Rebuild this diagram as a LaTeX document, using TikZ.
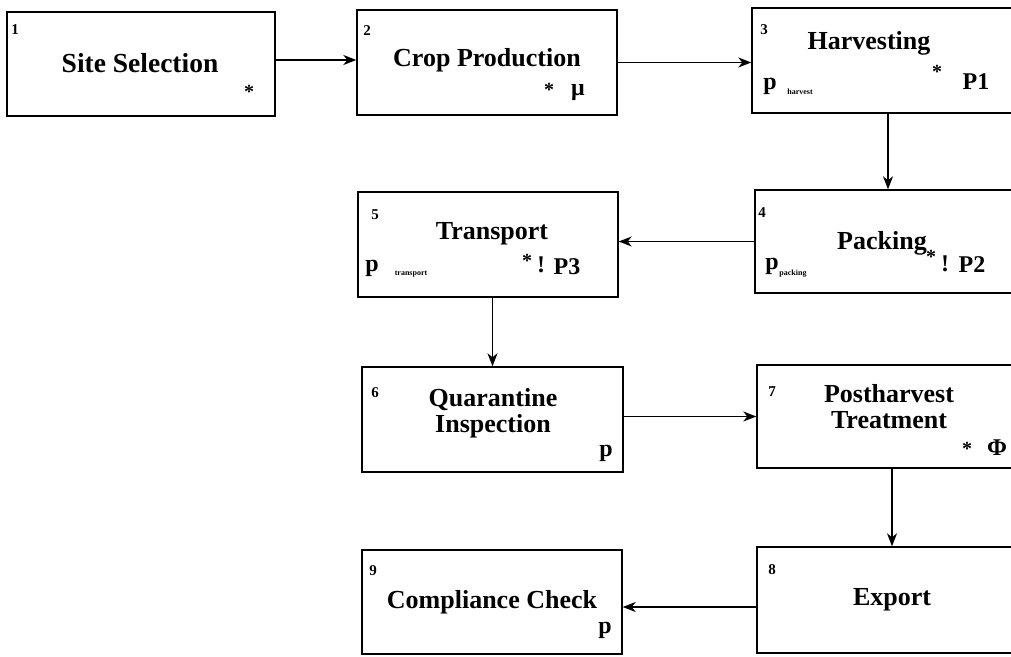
\documentclass[tikz,border=0pt]{standalone}
\usepackage{fontspec}
\setmainfont{Liberation Serif}
\usetikzlibrary{arrows.meta,calc}
\begin{document}
\begin{tikzpicture}[x=1pt,y=-1pt,
  box/.style={draw, line width=1.4pt, inner sep=0pt},
  lbl/.style={inner sep=0pt, font=\fontsize{26}{29}\selectfont\bfseries, align=center},
  num/.style={inner sep=0pt, font=\fontsize{15}{17}\selectfont\bfseries},
  sym/.style={inner sep=0pt, font=\fontsize{24}{26}\selectfont\bfseries},
  star/.style={inner sep=0pt, font=\fontsize{20}{22}\selectfont\bfseries},
  sub/.style={inner sep=0pt, font=\fontsize{8}{9}\selectfont\bfseries},
  arr/.style={line width=1.3pt, -{Stealth[length=13pt,width=10pt,inset=4pt]}}]
\useasboundingbox[fill=white] (0,0) rectangle (1011,656);
% boxes
\node[box, minimum width=268pt, minimum height=104pt] (b1) at (141,64) {};
\node[box, minimum width=260pt, minimum height=105pt] (b2) at (487,62.5) {};
\node[box, minimum width=272pt, minimum height=105pt] (b3) at (888,60.5) {};
\node[box, minimum width=266pt, minimum height=103pt] (b4) at (888,241.5) {};
\node[box, minimum width=260pt, minimum height=105pt] (b5) at (488,244.5) {};
\node[box, minimum width=261pt, minimum height=105pt] (b6) at (492.5,419.5) {};
\node[box, minimum width=270pt, minimum height=103pt] (b7) at (892,416.5) {};
\node[box, minimum width=270pt, minimum height=106pt] (b8) at (892,600) {};
\node[box, minimum width=260pt, minimum height=104pt] (b9) at (492,602) {};
% box 1
\node[num] (n1) at (15,30) {1};
\node[lbl, font=\fontsize{27.5}{30}\selectfont\bfseries] (t1) at (140,63) {Site Selection};
\node[star] (s1) at (249,92) {*};
% box 2
\node[num] (n2) at (367,31) {2};
\node[lbl] (t2) at (487,60) {Crop Production};
\node[star] (s2) at (549,90) {*};
\node[sym] (m2) at (578,93) {μ};
% box 3
\node[num] (n3) at (764,30) {3};
\node[lbl] (t3) at (869,43) {Harvesting};
\node[sym] (p3) at (770,86) {p};
\node[sub] (q3) at (800,92) {harvest};
\node[star] (s3) at (937,72) {*};
\node[sym] (m3) at (976,82) {P1};
% box 4
\node[num] (n4) at (762,213) {4};
\node[lbl] (t4) at (882,243) {Packing};
\node[sym] (p4) at (772,266) {p};
\node[sub] (q4) at (793,274) {packing};
\node[star] (s4) at (931,257) {*};
\node[sym] (e4) at (945,264) {!};
\node[sym] (m4) at (972,265) {P2};
% box 5
\node[num] (n5) at (375,215) {5};
\node[lbl] (t5) at (492,234) {Transport};
\node[sym] (p5) at (372,268) {p};
\node[sub] (q5) at (411,274) {transport};
\node[star] (s5) at (527,261) {*};
\node[sym] (e5) at (541,265) {!};
\node[sym] (m5) at (567,267) {P3};
% box 6
\node[num] (n6) at (375,393) {6};
\node[lbl] (t6) at (493,413) {Quarantine\\[-3pt]Inspection};
\node[sym] (p6) at (606,453) {p};
% box 7
\node[num] (n7) at (772,392) {7};
\node[lbl] (t7) at (889,407) {Postharvest\\[-3pt]Treatment};
\node[star] (s7) at (967,449) {*};
\node[sym] (m7) at (997,448) {Φ};
% box 8
\node[num] (n8) at (772,570) {8};
\node[lbl] (t8) at (892,600) {Export};
% box 9
\node[num] (n9) at (373,571) {9};
\node[lbl] (t9) at (492,602) {Compliance Check};
\node[sym] (p9) at (605,630) {p};
% connectors
\draw[arr] ([yshift=4pt]b1.east) -- ([yshift=4pt]b1.east -| b2.west);
\draw[arr] (b2.east) -- (b2.east -| b3.west);
\draw[arr] (b3.south) -- (b4.north);
\draw[arr] (b4.west) -- (b4.west -| b5.east);
\draw[arr] (b5.south -| b6.north) -- (b6.north);
\draw[arr] (b6.east |- b7.west) -- (b7.west);
\draw[arr] (b7.south) -- (b8.north);
\draw[arr] ([yshift=-7pt]b8.west) -- ([yshift=-7pt]b8.west -| b9.east);
\end{tikzpicture}
\end{document}
